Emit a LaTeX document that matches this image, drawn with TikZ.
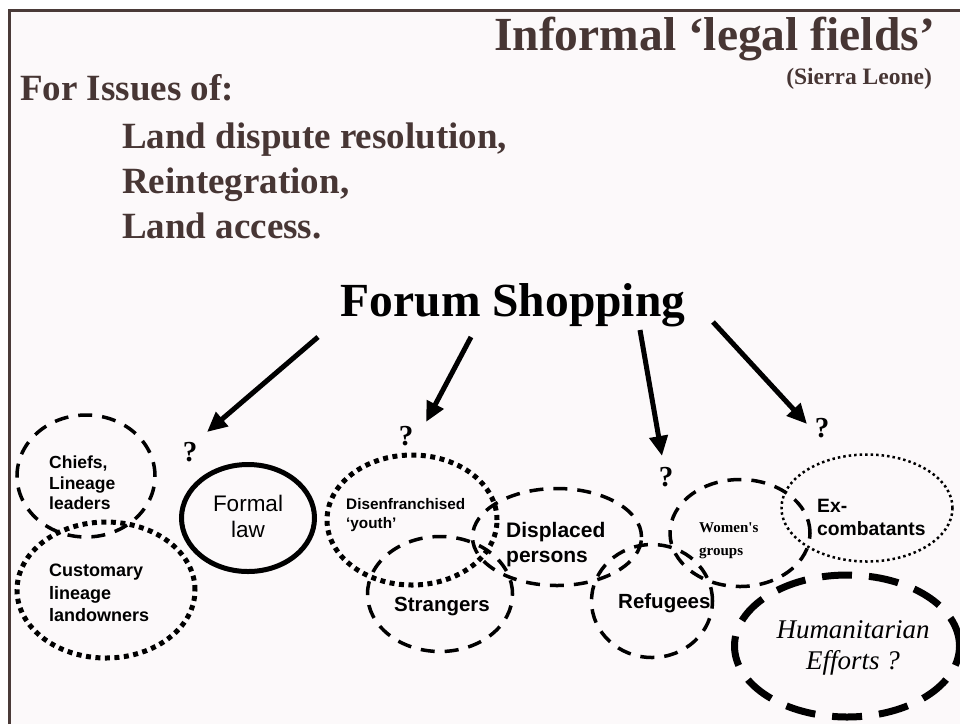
\documentclass[tikz,border=0pt]{standalone}
\usepackage{fontspec}
\setmainfont{Liberation Serif}
\newfontfamily\arialfont{Liberation Sans}
\newfontfamily\timesnl{Liberation Serif}[Ligatures=TeXOff]
\usetikzlibrary{shapes.geometric,arrows.meta}
\definecolor{framec}{HTML}{4A3A38}
\definecolor{bgc}{HTML}{FCF9FA}
\definecolor{headc}{HTML}{473634}
\begin{document}
\begin{tikzpicture}[x=1pt,y=-1pt,
  oval/.style 2 args={ellipse,inner sep=0pt,minimum width=#1pt,minimum height=#2pt},
  dashmid/.style={draw=black,line width=3.5pt,dash pattern=on 14pt off 10pt},
  dotthick/.style={draw=black,line width=5pt,dash pattern=on 5pt off 4.5pt},
  dotthin/.style={draw=black,line width=2.5pt,dash pattern=on 2.5pt off 3pt},
  solidthick/.style={draw=black,line width=5pt},
  dashbig/.style={draw=black,line width=7pt,dash pattern=on 30pt off 17pt},
  arr/.style={line width=5pt,-{Triangle[length=20pt,width=18pt]}},
  head/.style={text=headc,inner sep=0pt,font=\bfseries\fontsize{37}{44}\selectfont},
  qm/.style={inner sep=0pt,font=\bfseries\fontsize{29}{34}\selectfont},
  lab/.style={inner sep=0pt,align=left},
]
\useasboundingbox (0,0) rectangle (960,724);
\fill[white] (0,0) rectangle (960,724);
\fill[bgc] (9.5,10) rectangle (960,724);
\draw[framec,line width=3pt] (9.5,724) -- (9.5,10) -- (960,10);

% header
\node[head,anchor=base east,font=\bfseries\fontsize{47.5}{56}\selectfont] (title) at (935,50) {Informal ‘legal fields’};
\node[head,anchor=base east,font=\bfseries\fontsize{23.5}{28}\selectfont] (sl) at (932,84) {(Sierra Leone)};
\node[head,anchor=base west] (issues) at (20,100) {For Issues of:};
\node[head,anchor=base west] (l1) at (122,148) {Land dispute resolution,};
\node[head,anchor=base west] (l2) at (122,193) {Reintegration,};
\node[head,anchor=base west] (l3) at (122,238) {Land access.};

\node[inner sep=0pt,anchor=base,font=\bfseries\fontsize{47.5}{56}\selectfont] (forum) at (513,316) {Forum Shopping};

% arrows
\coordinate (a1s) at (318,337); \coordinate (a1e) at (207,432);
\coordinate (a2s) at (471,337); \coordinate (a2e) at (426,422);
\coordinate (a3s) at (640,330); \coordinate (a3e) at (662,456);
\coordinate (a4s) at (713,322); \coordinate (a4e) at (807,424);
\draw[arr] (a1s) -- (a1e);
\draw[arr] (a2s) -- (a2e);
\draw[arr] (a3s) -- (a3e);
\draw[arr] (a4s) -- (a4e);

\node[qm] (q1) at (190,452) {?};
\node[qm] (q2) at (406,436) {?};
\node[qm] (q3) at (666,477) {?};
\node[qm] (q4) at (822,428) {?};

% ellipses
\node[oval={138}{122},dashmid] (chiefs) at (86,476) {};
\node[oval={178}{136},dotthick] (cust) at (106,590) {};
\node[oval={133}{107},solidthick] (formal) at (248,518) {};
\node[oval={170}{130},dotthick] (disen) at (412,520) {};
\node[oval={169}{97},dashmid] (displ) at (557,537) {};
\node[oval={145}{115},dashmid] (strang) at (440,594) {};
\node[oval={121}{113},dashmid] (refug) at (652,601) {};
\node[oval={140}{107},dashmid] (women) at (740,533) {};
\node[oval={171}{107},dotthin] (excomb) at (867,508) {};
\node[oval={225}{142},dashbig] (human) at (847,646) {};

% labels
\node[lab,anchor=west,font=\arialfont\bfseries\fontsize{17.5}{20.5}\selectfont] (tchiefs) at (49,483) {Chiefs,\\Lineage\\leaders};
\node[lab,anchor=west,font=\arialfont\bfseries\fontsize{18}{22.5}\selectfont] (tcust) at (49,593) {Customary\\lineage\\landowners};
\node[inner sep=0pt,align=center,font=\arialfont\fontsize{22.5}{26}\selectfont] (tformal) at (248,516) {Formal\\law};
\node[lab,anchor=west,font=\arialfont\bfseries\fontsize{15.3}{19}\selectfont] (tdisen) at (346,515) {Disenfranchised\\‘youth’};
\node[lab,anchor=west,font=\arialfont\bfseries\fontsize{21}{25}\selectfont] (tdispl) at (506,545) {Displaced\\persons};
\node[inner sep=0pt,font=\arialfont\bfseries\fontsize{20.5}{24}\selectfont] (tstrang) at (442,607) {Strangers};
\node[lab,anchor=west,font=\arialfont\bfseries\fontsize{20.5}{24}\selectfont] (trefug) at (618,603) {Refugees};
\node[lab,anchor=west,font=\timesnl\bfseries\fontsize{15}{23}\selectfont] (twomen) at (699,541) {Women's\\groups};
\node[lab,anchor=west,font=\arialfont\bfseries\fontsize{19.3}{23}\selectfont] (texcomb) at (817,517) {Ex-\\combatants};
\node[inner sep=0pt,align=center,font=\itshape\fontsize{27}{31}\selectfont] (thuman) at (853,648) {Humanitarian\\Efforts ?};
\end{tikzpicture}
\end{document}
